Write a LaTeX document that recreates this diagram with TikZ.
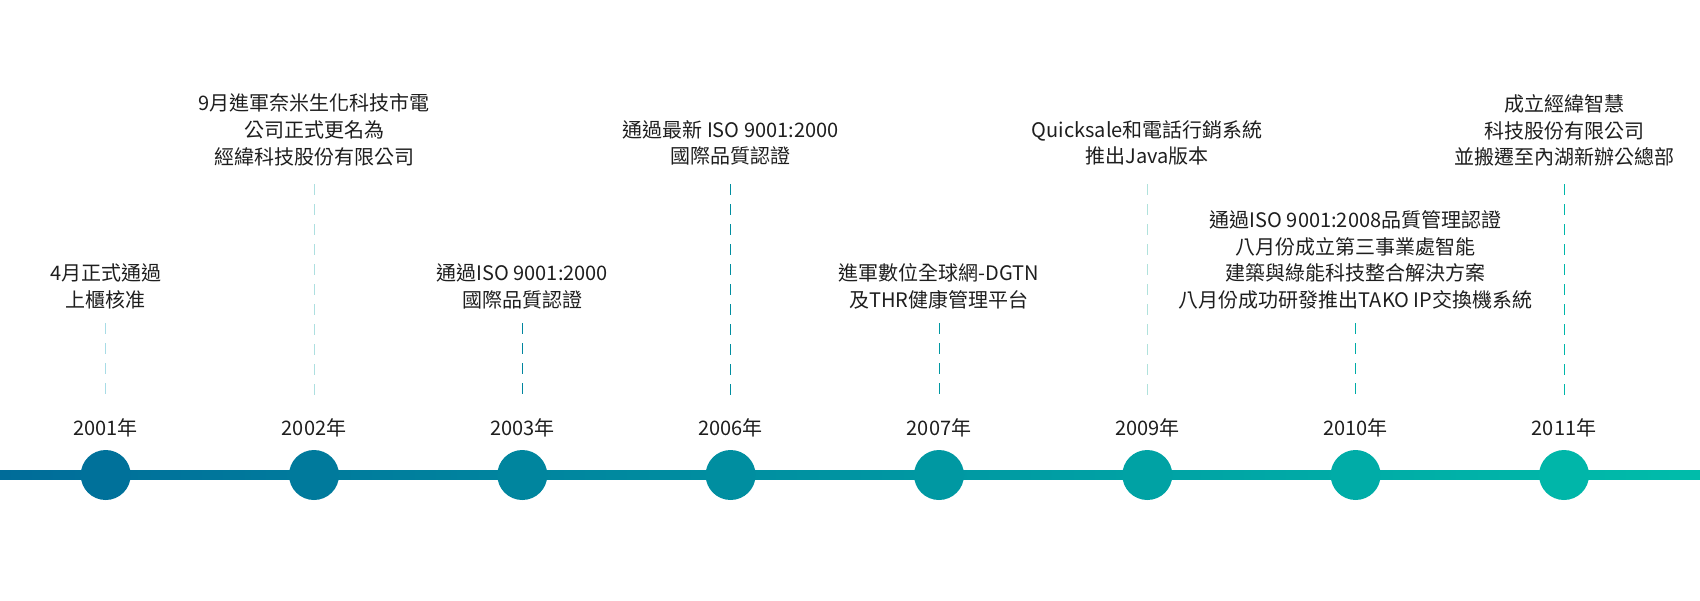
\documentclass[tikz,border=0pt]{standalone}
\usepackage{fontspec}
\setmainfont{Noto Sans CJK TC}
\definecolor{tlA}{HTML}{006C99}
\definecolor{tlB}{HTML}{00BCAA}
\definecolor{ink}{HTML}{1E1E1E}
\definecolor{lightA}{HTML}{A8DCE6}
\definecolor{lightB}{HTML}{ADDFE0}
\definecolor{lightC}{HTML}{B0E2DC}
\tikzset{
  dot/.style={circle, minimum size=25pt, inner sep=0pt},
  yearlbl/.style={font=\fontsize{10pt}{13.35pt}\selectfont, text=ink, inner sep=0pt},
  evt/.style={font=\fontsize{10pt}{13.35pt}\selectfont, text=ink, align=center, inner sep=0pt},
  guide/.style={line width=0.5pt, dash pattern=on 5.33pt off 4.67pt},
}
\begin{document}
\begin{tikzpicture}[x=0.5pt, y=-0.5pt]
\useasboundingbox (0,0) rectangle (1700,600);
% main gradient line
\shade[left color=tlA, right color=tlB] (0,470.3) rectangle (1700,479.7);
% circles
\node[dot, fill=tlB!6!tlA]  (c1) at (105.7,475) {};
\node[dot, fill=tlB!18!tlA] (c2) at (314,475) {};
\node[dot, fill=tlB!31!tlA] (c3) at (522.3,475) {};
\node[dot, fill=tlB!43!tlA] (c4) at (730.6,475) {};
\node[dot, fill=tlB!55!tlA] (c5) at (939,475) {};
\node[dot, fill=tlB!67!tlA] (c6) at (1147.3,475) {};
\node[dot, fill=tlB!80!tlA] (c7) at (1355.6,475) {};
\node[dot, fill=tlB!92!tlA] (c8) at (1564,475) {};
% years
\node[yearlbl] (y1) at (105.7,428) {2001年};
\node[yearlbl] (y2) at (314,428) {2002年};
\node[yearlbl] (y3) at (522.3,428) {2003年};
\node[yearlbl] (y4) at (730.6,428) {2006年};
\node[yearlbl] (y5) at (939,428) {2007年};
\node[yearlbl] (y6) at (1147.3,428) {2009年};
\node[yearlbl] (y7) at (1355.6,428) {2010年};
\node[yearlbl] (y8) at (1564,428) {2011年};
% events
\node[evt] (e1) at (105.7,286.5) {4月正式通過\\上櫃核准};
\node[evt] (e2) at (314,130) {9月進軍奈米生化科技市電\\公司正式更名為\\經緯科技股份有限公司};
\node[evt] (e3) at (522.3,286.5) {通過ISO 9001:2000\\國際品質認證};
\node[evt] (e4) at (730.6,143) {通過最新 ISO 9001:2000\\國際品質認證};
\node[evt] (e5) at (939,286.5) {進軍數位全球網-DGTN\\及THR健康管理平台};
\node[evt] (e6) at (1147.3,143) {Quicksale和電話行銷系統\\推出Java版本};
\node[evt] (e7) at (1355.6,260) {通過ISO 9001:2008品質管理認證\\八月份成立第三事業處智能\\建築與綠能科技整合解決方案\\八月份成功研發推出TAKO IP交換機系統};
\node[evt] (e8) at (1564,130.5) {成立經緯智慧\\科技股份有限公司\\並搬遷至內湖新辦公總部};
% guide coordinates
\coordinate (t1) at (105.7,323);  \coordinate (b1) at (105.7,395);
\coordinate (t2) at (314,184);    \coordinate (b2) at (314,395);
\coordinate (t3) at (522.3,323);  \coordinate (b3) at (522.3,395);
\coordinate (t4) at (730.6,184);  \coordinate (b4) at (730.6,395);
\coordinate (t5) at (939,323);    \coordinate (b5) at (939,395);
\coordinate (t6) at (1147.3,184); \coordinate (b6) at (1147.3,395);
\coordinate (t7) at (1355.6,323); \coordinate (b7) at (1355.6,395);
\coordinate (t8) at (1564,184);   \coordinate (b8) at (1564,395);
% guides
\draw[guide, draw=lightA] (t1) -- (b1);
\draw[guide, draw=lightB] (t2) -- (b2);
\draw[guide, draw=tlB!31!tlA] (t3) -- (b3);
\draw[guide, draw=tlB!43!tlA] (t4) -- (b4);
\draw[guide, draw=tlB!55!tlA] (t5) -- (b5);
\draw[guide, draw=lightC] (t6) -- (b6);
\draw[guide, draw=tlB!80!tlA] (t7) -- (b7);
\draw[guide, draw=tlB!92!tlA] (t8) -- (b8);
\end{tikzpicture}
\end{document}
